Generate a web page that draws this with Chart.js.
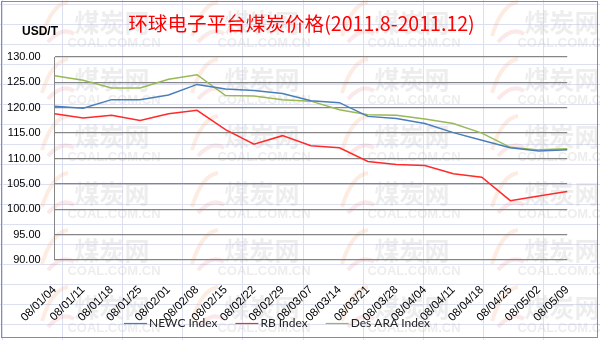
<!DOCTYPE html>
<html>
<head>
<meta charset="utf-8">
<title>环球电子平台煤炭价格</title>
<script src="https://cdn.jsdelivr.net/npm/chart.js@4.4.1/dist/chart.umd.min.js"></script>
<style>
    html, body { margin: 0; padding: 0; background: #ffffff; }
    #wrap { width: 600px; height: 340px; position: relative; }
</style>
</head>
<body>
<div id="wrap"><canvas id="coalChart"></canvas></div>
<script>
// Weekly price series, USD/T
const weeks = ['08/01/04', '08/01/11', '08/01/18', '08/01/25', '08/02/01', '08/02/08', '08/02/15',
    '08/02/22', '08/02/29', '08/03/07', '08/03/14', '08/03/21', '08/03/28', '08/04/04',
    '08/04/11', '08/04/18', '08/04/25', '08/05/02', '08/05/09'];
const newcIndex = [120.3, 119.9, 121.6, 121.6, 122.5, 124.6, 123.7, 123.4, 122.8, 121.4,
    121.0, 118.3, 117.9, 116.9, 115.1, 113.6, 112.1, 111.5, 111.7];
const rbIndex = [118.8, 118.0, 118.5, 117.5, 118.8, 119.5, 115.7, 112.8, 114.5, 112.5,
    112.1, 109.4, 108.8, 108.6, 107.0, 106.3, 101.7, 102.6, 103.5];
const araIndex = [126.3, 125.4, 123.9, 123.9, 125.6, 126.5, 122.4, 122.3, 121.6, 121.3,
    119.6, 118.6, 118.5, 117.8, 116.9, 115.0, 112.2, 111.7, 111.9];
const yMin = 90, yMax = 130, yStep = 5;

const chartTitle = '环球电子平台煤炭价格(2011.8-2011.12)';
const unitLabel = 'USD/T';
const seriesNames = ['NEWC Index', 'RB Index', 'Des ARA Index'];
const seriesColors = ['#4a7ebb', '#ff2a2a', '#98b954'];

const AXIS_FONT = 'Liberation Sans';

// Spreadsheet cells and the site watermark behind the chart
const backdrop = {
    id: 'backdrop',
    beforeDraw(chart) {
        const { ctx, width, height } = chart;
        ctx.save();
        ctx.fillStyle = '#ffffff';
        ctx.fillRect(0, 0, width, height);

        ctx.strokeStyle = '#dcdff0';
        ctx.lineWidth = 1;
        ctx.beginPath();
        for (let x = 2; x < width; x += 60.1) {
            ctx.moveTo(Math.round(x) + 0.5, 0);
            ctx.lineTo(Math.round(x) + 0.5, height);
        }
        for (let y = 4; y < height; y += 20) {
            ctx.moveTo(0, y + 0.5);
            ctx.lineTo(width, y + 0.5);
        }
        ctx.stroke();

        for (let row = 0; row < 6; row++) {
            for (let col = 0; col < 4; col++) {
                const cx = 112 + col * 150;
                const cy = 22 + row * 57;
                // swoosh logo
                ctx.lineWidth = 4;
                ctx.strokeStyle = 'rgba(240, 160, 110, 0.2)';
                ctx.beginPath();
                ctx.moveTo(cx - 70, cy + 14);
                ctx.quadraticCurveTo(cx - 60, cy - 18, cx - 44, cy - 20);
                ctx.stroke();
                ctx.strokeStyle = 'rgba(230, 110, 110, 0.16)';
                ctx.beginPath();
                ctx.moveTo(cx - 64, cy + 20);
                ctx.quadraticCurveTo(cx - 50, cy + 4, cx - 38, cy + 12);
                ctx.stroke();

                ctx.fillStyle = 'rgba(190, 190, 190, 0.28)';
                ctx.textAlign = 'center';
                ctx.textBaseline = 'middle';
                ctx.font = 'bold 25px "Noto Sans CJK SC"';
                ctx.fillText('煤炭网', cx, cy);
                ctx.font = 'bold 13px "Liberation Sans"';
                ctx.fillText('COAL.COM.CN', cx + 2, cy + 21);
            }
        }
        ctx.restore();
    }
};

// Title, unit label, legend row and frame
const overlay = {
    id: 'overlay',
    afterDraw(chart) {
        const { ctx } = chart;
        ctx.save();
        ctx.textBaseline = 'middle';

        ctx.fillStyle = '#ff0000';
        ctx.font = '19.6px "Noto Sans CJK SC"';
        ctx.textAlign = 'center';
        ctx.fillText(chartTitle, 301.5, 24);

        ctx.fillStyle = '#000000';
        ctx.font = 'bold 12px ' + AXIS_FONT;
        ctx.textAlign = 'left';
        ctx.fillText(unitLabel, 22, 32);

        ctx.font = '12px Lato';
        let x = 124;
        const y = 323;
        chart.data.datasets.forEach(ds => {
            ctx.strokeStyle = ds.borderColor;
            ctx.lineWidth = 1.2;
            ctx.beginPath();
            ctx.moveTo(x, y + 0.5);
            ctx.lineTo(x + 23, y + 0.5);
            ctx.stroke();
            x += 25;
            ctx.fillStyle = '#222222';
            ctx.fillText(ds.label, x, y);
            x += ctx.measureText(ds.label).width + 18;
        });

        ctx.strokeStyle = '#8c8c8c';
        ctx.lineWidth = 1;
        ctx.strokeRect(1.5, 1.5, chart.width - 4, chart.height - 4);
        ctx.restore();
    }
};

const datasets = [newcIndex, rbIndex, araIndex].map((values, i) => ({
    label: seriesNames[i],
    data: values,
    borderColor: seriesColors[i],
    backgroundColor: seriesColors[i],
    borderWidth: 1.5,
    pointRadius: 0,
    tension: 0,
    fill: false
}));

new Chart(document.getElementById('coalChart'), {
    type: 'line',
    data: { labels: weeks, datasets },
    options: {
        responsive: true,
        maintainAspectRatio: false,
        animation: false,
        layout: { padding: { left: 0, right: 17, top: 57, bottom: 0 } },
        plugins: {
            legend: { display: false },
            tooltip: { enabled: false },
            title: { display: false }
        },
        scales: {
            x: {
                offset: false,
                grid: { display: false, drawTicks: false },
                border: { display: false },
                ticks: {
                    color: '#000000',
                    font: { family: AXIS_FONT, size: 11.5 },
                    minRotation: 45,
                    maxRotation: 45,
                    autoSkip: false,
                    padding: 23
                },
                afterFit(scale) { scale.height = 80; }
            },
            y: {
                min: yMin,
                max: yMax,
                grid: { color: '#868686', lineWidth: 1.3, drawTicks: false },
                border: { display: true, color: '#868686', width: 1 },
                ticks: {
                    stepSize: yStep,
                    color: '#000000',
                    font: { family: AXIS_FONT, size: 11 },
                    padding: 14,
                    callback: v => v.toFixed(2)
                },
                afterFit(scale) { scale.width = 53; }
            }
        }
    },
    plugins: [backdrop, overlay]
});
</script>
</body>
</html>
